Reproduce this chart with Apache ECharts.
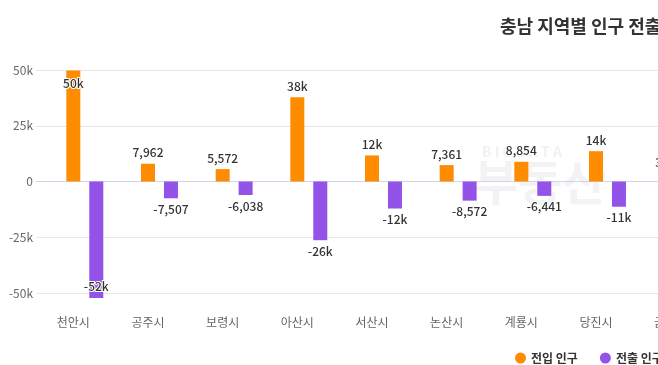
<!DOCTYPE html>
<html>
<head>
<meta charset="utf-8">
<script src="https://cdn.jsdelivr.net/npm/echarts@6/dist/echarts.min.js"></script>
<style>
html,body{margin:0;padding:0;overflow:hidden;background:#fff;}
#main{width:720px;height:365px;}
</style>
</head>
<body>
<div id="main"></div>
<script>
// 지역 (화면 오른쪽은 잘려 있음)
var regions=['천안시','공주시','보령시','아산시','서산시','논산시','계룡시','당진시','금산군'];
var moveIn=[49800,7962,5572,37800,11700,7361,8854,13600,3800];//전입 인구
var moveOut=[-52200,-7507,-6038,-26300,-12100,-8572,-6441,-11300,-4200];//전출 인구
var yTicks=[-50000,-25000,0,25000,50000];
var yMin=-56700,yMax=50000;

var font='"Noto Sans CJK KR","Noto Sans",sans-serif';

var fmtVal=function(v){
	if(v==null) return '';
	if(Math.abs(v)>=10000) return Math.round(v/1000)+'k';
	return v.toLocaleString('en-US');
}
var labelStyle={
	show:true,
	fontFamily:font,
	fontSize:12,
	fontWeight:500,
	color:'#333',
	textBorderColor:'#fff',
	textBorderWidth:2,
	distance:5,
	formatter:function(p){return fmtVal(p.value);}
}
//축 끝에 닿는 값은 막대 안쪽에 라벨
var toItems=function(arr){
	return arr.map(function(v){
		if(v>45000) return {value:v,label:{position:'insideTop',distance:7}};
		if(v<-45000) return {value:v,label:{position:'insideBottom',distance:6}};
		return v;
	});
}

var chart=echarts.init(document.getElementById('main'));
var option={
	animation:false,
	title:{
		text:'충남 지역별 인구 전출입',
		left:495,
		top:12,
		textStyle:{fontFamily:font,fontSize:18,fontWeight:'bold',color:'#333'}
	},
	legend:{
		data:['전입 인구','전출 인구'],
		left:510,
		top:347,
		icon:'circle',
		itemWidth:11,
		itemHeight:11,
		itemGap:22,
		textStyle:{fontFamily:font,fontSize:12,fontWeight:'bold',color:'#333'}
	},
	grid:{left:36,right:12,top:70,bottom:57,containLabel:false},
	xAxis:{
		type:'category',
		data:regions,
		axisLine:{lineStyle:{color:'#ccd6eb'}},
		axisTick:{show:false},
		axisLabel:{fontFamily:font,fontSize:12,color:'#666',margin:8}
	},
	yAxis:{
		type:'value',
		min:yMin,
		max:yMax,
		axisLine:{show:false},
		axisTick:{show:false,customValues:yTicks},
		axisLabel:{
			customValues:yTicks,
			fontFamily:font,fontSize:12,color:'#666',margin:3,
			formatter:function(v){return v===0?'0':(v/1000)+'k';}
		},
		splitLine:{show:true,lineStyle:{color:'#e6e6e6'}}
	},
	graphic:[
		{type:'text',left:482,top:145,silent:true,z:-1,style:{text:'B I G D A T A',fontFamily:font,fontSize:14,fontWeight:'bold',fill:'#f1f1f1'}},
		{type:'text',left:474,top:158,silent:true,z:-1,style:{text:'부동산',fontFamily:font,fontSize:48,fontWeight:'bold',fill:'#f3f3f3'}}
	],
	series:[
		{name:'',type:'bar',barWidth:14,barGap:'64%',data:regions.map(function(){return null;})},
		{name:'전입 인구',type:'bar',barWidth:14,barGap:'64%',itemStyle:{color:'#ff8c00'},
			label:Object.assign({},labelStyle,{position:'top'}),data:toItems(moveIn)},
		{name:'전출 인구',type:'bar',barWidth:14,barGap:'64%',itemStyle:{color:'#9353e8'},
			label:Object.assign({},labelStyle,{position:'bottom'}),data:toItems(moveOut)}
	]
};
chart.setOption(option);
</script>
</body>
</html>
